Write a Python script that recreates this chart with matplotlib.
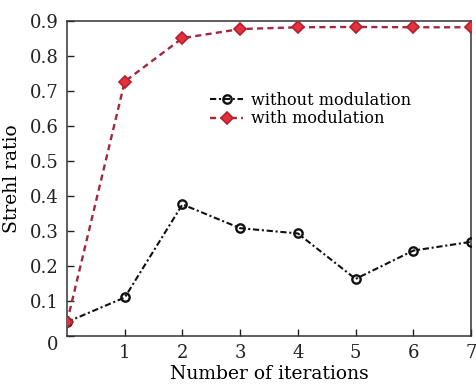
import matplotlib
matplotlib.use("Agg")
import matplotlib.pyplot as plt

iterations = [0, 1, 2, 3, 4, 5, 6, 7]
without_modulation = [0.04, 0.110, 0.376, 0.308, 0.293, 0.163, 0.244, 0.269]
with_modulation = [0.04, 0.727, 0.851, 0.877, 0.882, 0.883, 0.882, 0.882]
x_ticks = [1, 2, 3, 4, 5, 6, 7]
y_ticks = [0, 0.1, 0.2, 0.3, 0.4, 0.5, 0.6, 0.7, 0.8, 0.9]
y_tick_labels = ["0", "0.1", "0.2", "0.3", "0.4", "0.5", "0.6", "0.7", "0.8", "0.9"]

plt.rcParams["font.family"] = ["DejaVu Serif"]

fig = plt.figure(figsize=(4.76, 3.85), dpi=100)
ax = fig.add_axes([0.1408, 0.1273, 0.8487, 0.8182])

ax.plot(iterations, without_modulation, color="#111111", linestyle=(0, (3, 1.3, 1, 1.3)),
        linewidth=1.5, marker="o", markersize=6, markerfacecolor="none",
        markeredgecolor="#111111", markeredgewidth=1.7, label="without modulation",
        zorder=3)
ax.plot(iterations, with_modulation, color="#a3283f", linestyle=(0, (2.6, 1.8)),
        linewidth=1.7, marker="D", markersize=6, markerfacecolor="#e8303c",
        markeredgecolor="#b02030", markeredgewidth=1.2, label="with modulation",
        zorder=4)

ax.set_xlim(0, 7)
ax.set_ylim(0, 0.9)
ax.set_xticks(x_ticks)
ax.set_yticks(y_ticks)
ax.set_yticklabels(y_tick_labels)
ax.tick_params(direction="in", length=5, width=1, labelsize=13, colors="#222222")
ax.tick_params(axis="y", pad=6)
ax.tick_params(axis="x", pad=6)
ax.get_yticklabels()[0].set_va("top")
for s in ax.spines.values():
    s.set_color("#333333")
    s.set_linewidth(1.1)

ax.set_xlabel("Number of iterations", fontsize=13.5, labelpad=2)
ax.set_ylabel("Strehl ratio", fontsize=13.5, labelpad=6)

ax.legend(loc="upper left", bbox_to_anchor=(0.335, 0.80), frameon=False, fontsize=11.6,
          handlelength=2.0, handletextpad=0.5, labelspacing=0.08, borderpad=0)

fig.savefig("out.png", dpi=100)
